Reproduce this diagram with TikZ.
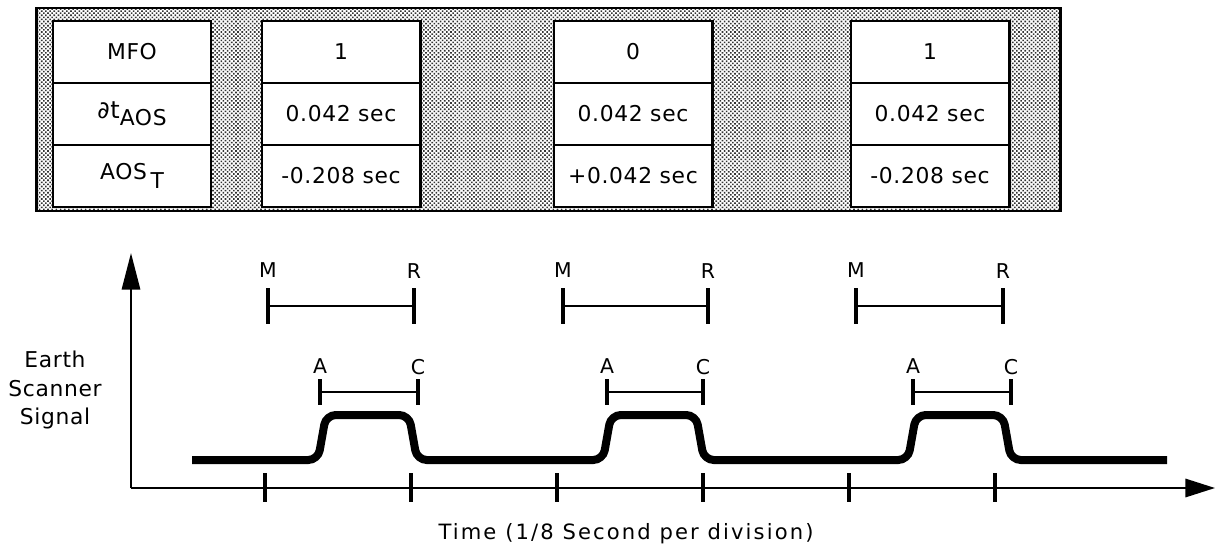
\documentclass[tikz,border=0pt]{standalone}
\usepackage{fontspec}
\newfontfamily\genevafont[LetterSpace=3]{DejaVu Sans}
\newfontfamily\genevawide[LetterSpace=10]{DejaVu Sans}
\usetikzlibrary{arrows.meta, positioning, patterns.meta}

\begin{document}
\begin{tikzpicture}[
  x=0.025cm, y=-0.025cm,
  panel/.style={rectangle, draw=black, line width=2pt, preaction={fill=white},
                pattern={Dots[distance=2.1pt, radius=0.8pt, angle=45]}, pattern color=black!80,
                minimum width=25.575cm, minimum height=5.075cm, inner sep=0pt},
  cell/.style={rectangle, draw=black, line width=2.1pt, fill=white,
               minimum width=3.95cm, minimum height=1.55cm, inner sep=0pt,
               font=\genevafont\fontsize{15.5}{18}\selectfont, align=center},
  letter/.style={font=\genevafont\fontsize{14.5}{16}\selectfont, inner sep=0pt},
  caption/.style={font=\genevafont\fontsize{15.5}{20}\selectfont, align=center, inner sep=0pt},
  axis/.style={line width=1.5pt, -{Triangle[length=26pt, width=13pt]}},
  bar/.style={line width=1.5pt},
  endtick/.style={line width=2.2pt},
  signal/.style={line width=5.7pt, rounded corners=7pt}
]
  \useasboundingbox (0,0) rectangle (1216,554);

  % Table panel
  \node[panel] (panel) at (548.5,109.5) {};
  \node[cell] (mfo) at (132,52)  {MFO};
  \node[cell] (dt)  at (132,114) {{\fontsize{17}{18}\selectfont∂t}\raisebox{-5pt}{AOS}};
  \node[cell] (aos) at (132,176) {AOS\,\raisebox{-6pt}{T}};

  \foreach \n/\cx/\mf/\dtv/\aosv in {1/341/1/0.042 sec/-0.208 sec,
                                     2/633/0/0.042 sec/+0.042 sec,
                                     3/930/1/0.042 sec/-0.208 sec}{
    \node[cell] (mfo\n) at (\cx,52)  {\mf};
    \node[cell] (dt\n)  at (\cx,114) {\dtv};
    \node[cell] (aos\n) at (\cx,176) {\aosv};
  }

  % Axes
  \coordinate (origin) at (131,488);
  \coordinate (ytip) at (131,253);
  \coordinate (xtip) at (1215,488);
  \draw[axis] (origin) -- (ytip);
  \draw[axis, -{Triangle[length=21pt, width=13pt]}] (origin) -- (xtip);
  \foreach \t in {265,411,557,703,849,995}
    \draw[endtick] (\t,473) -- (\t,502);

  \node[caption] (ylabel) at (55,390) {Earth\\Scanner\\Signal};
  \node[caption, font=\genevawide\fontsize{15}{18}\selectfont] (xlabel) at (626,534)
    {Time (1/8 Second per division)};

  % M-R intervals
  \foreach \n/\m/\r in {1/268/414, 2/563/708, 3/856/1003}{
    \node[letter] (M\n) at (\m,270) {M};
    \node[letter] (R\n) at (\r,271) {R};
    \coordinate (m\n) at (\m,306);
    \coordinate (r\n) at (\r,306);
    \draw[bar] (m\n) -- (r\n);
    \draw[endtick] (\m,288) -- (\m,324);
    \draw[endtick] (\r,288) -- (\r,324);
  }

  % A-C intervals
  \foreach \n/\a/\c in {1/320/418, 2/607/703, 3/913/1011}{
    \node[letter] (A\n) at (\a,366) {A};
    \node[letter] (C\n) at (\c,367) {C};
    \coordinate (a\n) at (\a,392);
    \coordinate (c\n) at (\c,392);
    \draw[bar] (a\n) -- (c\n);
    \draw[endtick] (\a,379) -- (\a,405);
    \draw[endtick] (\c,379) -- (\c,405);
  }

  % Scanner signal
  \draw[signal] (192,460)
    \foreach \r/\f in {322/413, 607/700, 912/1007}{
      -- (\r-4,460) -- (\r+4,415) -- (\f-4,415) -- (\f+4,460)
    } -- (1167,460);
\end{tikzpicture}
\end{document}
